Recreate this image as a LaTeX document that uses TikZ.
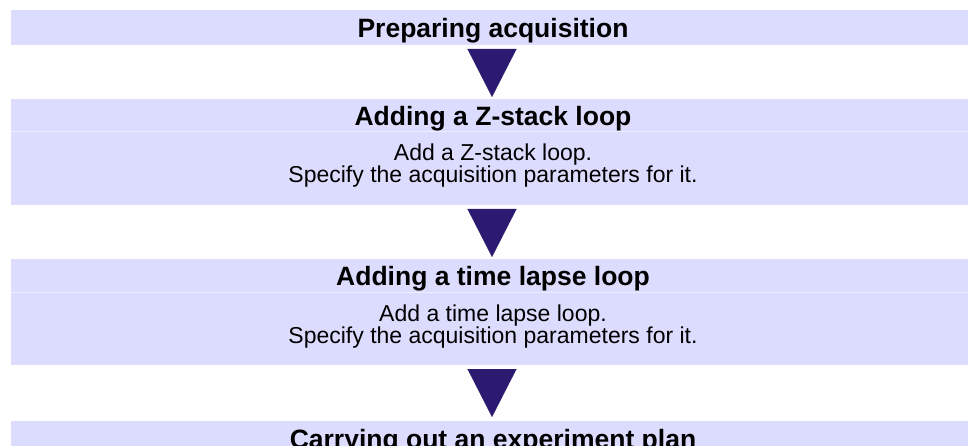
\documentclass[tikz,border=0pt]{standalone}
\usepackage{fontspec}
\setmainfont{Liberation Sans}
\usetikzlibrary{arrows.meta}
\definecolor{barfill}{RGB}{220,220,255}
\definecolor{barline}{RGB}{238,238,255}
\definecolor{stepblue}{RGB}{44,26,112}

\begin{document}
\begin{tikzpicture}[x=1pt, y=-1pt,
    bar/.style={fill=barfill, minimum width=964pt, inner sep=0pt, outer sep=0pt},
    titlebar/.style={bar, minimum height=#1, text height=20pt, text depth=0pt,
      font=\fontsize{26.5}{30}\selectfont\bfseries},
    bodybar/.style={bar, minimum height=73pt, text height=38pt, text depth=9pt,
      align=center, font=\fontsize{23}{22}\selectfont},
    stepto/.style={stepblue, line width=0.1pt, -{Triangle[width=49pt,length=48pt]}}]
  \useasboundingbox (0,0) rectangle (968,446);
  \clip (0,0) rectangle (968,446);
  % steps
  \node[titlebar=35pt] (prep) at (493,27.5) {Preparing acquisition};
  \node[titlebar=33pt] (zstack) at (493,115.5) {Adding a Z-stack loop};
  \node[bodybar] (zstackbody) at (493,168.5)
    {Add a Z-stack loop.\\Specify the acquisition parameters for it.};
  \node[titlebar=33pt] (tlapse) at (493,275.5) {Adding a time lapse loop};
  \node[bodybar] (tlapsebody) at (493,328.5)
    {Add a time lapse loop.\\Specify the acquisition parameters for it.};
  \node[titlebar=35pt] (plan) at (493,438.5) {Carrying out an experiment plan};
  % thin lines under the titles
  \draw[barline, line width=1pt] (zstack.south west) -- (zstack.south east);
  \draw[barline, line width=1pt] (tlapse.south west) -- (tlapse.south east);
  % arrows between the steps
  \draw[stepto, shorten <=4pt, shorten >=2pt]
    ([xshift=-1pt]prep.south) -- ([xshift=-1pt]zstack.north);
  \draw[stepto, shorten <=5pt, shorten >=2pt]
    ([xshift=-1pt]zstackbody.south) -- ([xshift=-1pt]tlapse.north);
  \draw[stepto, shorten <=5pt, shorten >=4pt]
    ([xshift=-1pt]tlapsebody.south) -- ([xshift=-1pt]plan.north);
\end{tikzpicture}
\end{document}
